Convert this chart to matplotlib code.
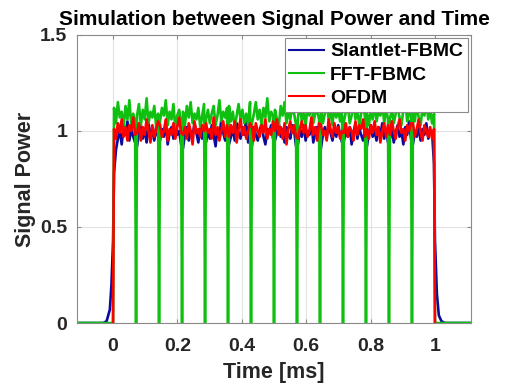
import numpy as np
import matplotlib.pyplot as plt

plt.rcParams['font.family'] = ['Liberation Sans', 'DejaVu Sans']
plt.rcParams['font.weight'] = 'bold'
plt.rcParams['axes.labelweight'] = 'bold'
plt.rcParams['axes.titleweight'] = 'bold'

# signal power per symbol (x100), 14 symbols of 12 samples each
green_sym = [
    [112, 104, 115, 107, 110, 102, 113, 106, 116, 103, 109, 105],
    [108, 114, 103, 111, 106, 117, 104, 110, 107, 113, 102, 109],
    [105, 112, 108, 116, 103, 110, 106, 114, 101, 108, 111, 104],
    [110, 103, 113, 107, 115, 104, 109, 106, 112, 102, 108, 114],
    [106, 111, 104, 109, 113, 103, 108, 116, 105, 110, 107, 112],
    [113, 105, 110, 102, 108, 114, 106, 111, 104, 109, 103, 115],
    [104, 109, 115, 106, 111, 103, 112, 107, 117, 105, 110, 108],
    [111, 106, 103, 113, 108, 115, 104, 110, 106, 112, 109, 103],
    [107, 114, 105, 110, 103, 112, 108, 116, 104, 109, 111, 106],
    [112, 104, 109, 115, 106, 110, 103, 113, 107, 111, 105, 114],
    [105, 110, 113, 104, 108, 116, 106, 111, 103, 109, 114, 107],
    [109, 103, 111, 106, 114, 105, 110, 108, 115, 104, 112, 106],
    [106, 112, 104, 109, 113, 107, 103, 111, 116, 105, 110, 108],
    [110, 105, 114, 107, 103, 112, 108, 115, 106, 111, 104, 109],
]
red_sym = [
    [101, 96, 104, 99, 106, 97, 102, 95, 103, 100, 107, 98],
    [99, 104, 95, 102, 98, 106, 100, 94, 103, 97, 101, 105],
    [103, 97, 100, 106, 95, 101, 98, 104, 96, 102, 107, 99],
    [98, 102, 96, 104, 100, 93, 105, 99, 101, 97, 103, 100],
    [104, 99, 101, 96, 107, 98, 102, 95, 100, 105, 97, 103],
    [97, 103, 99, 105, 94, 101, 106, 98, 102, 96, 100, 104],
    [102, 95, 104, 100, 97, 103, 99, 106, 96, 101, 98, 105],
    [100, 106, 98, 102, 96, 104, 93, 101, 105, 99, 103, 97],
    [96, 101, 105, 99, 103, 97, 100, 107, 98, 102, 95, 104],
    [103, 98, 100, 95, 106, 101, 97, 104, 99, 102, 96, 100],
    [99, 104, 97, 102, 100, 95, 105, 98, 103, 101, 106, 97],
    [101, 96, 103, 99, 105, 98, 102, 94, 100, 104, 97, 103],
    [98, 105, 100, 96, 102, 106, 99, 101, 95, 103, 100, 104],
    [104, 97, 101, 106, 99, 95, 103, 100, 97, 102, 96, 101],
]
blue_sym = [
    [78, 90, 96, 100, 93, 102, 98, 105, 95, 101, 97, 94],
    [92, 99, 103, 96, 101, 94, 104, 98, 100, 95, 102, 97],
    [95, 101, 97, 104, 93, 99, 102, 96, 105, 98, 100, 93],
    [91, 98, 102, 95, 100, 97, 104, 99, 94, 101, 96, 103],
    [94, 100, 96, 103, 98, 92, 101, 97, 106, 99, 95, 102],
    [93, 97, 101, 95, 104, 99, 96, 102, 98, 108, 94, 100],
    [92, 102, 98, 95, 100, 104, 97, 93, 101, 99, 103, 96],
    [95, 99, 104, 97, 101, 94, 102, 98, 96, 103, 100, 92],
    [93, 101, 97, 103, 95, 100, 98, 105, 94, 99, 102, 96],
    [91, 98, 102, 96, 104, 99, 95, 101, 97, 103, 98, 94],
    [95, 100, 97, 102, 93, 99, 104, 96, 101, 98, 95, 100],
    [92, 99, 103, 97, 100, 95, 102, 98, 104, 96, 101, 94],
    [96, 101, 94, 99, 103, 97, 100, 93, 102, 98, 105, 96],
    [93, 100, 97, 102, 95, 101, 98, 104, 96, 100, 99, 83],
]

# filter roll-off of the Slantlet-FBMC burst edges
blue_head_t = [-0.115, -0.03, -0.02, -0.01, -0.005, 0.0]
blue_head = [0, 0, 0.01, 0.07, 0.2, 0.43]
blue_tail_t = [1.0, 1.006, 1.012, 1.02, 1.03, 1.115]
blue_tail = [0.43, 0.15, 0.04, 0.01, 0, 0]

n_sym = len(green_sym)
n_smp = len(green_sym[0])
t_sym = 1.0 / n_sym


def symbol_times(k):
    return [t_sym * (k + (j + 0.5) / n_smp) for j in range(n_smp)]


# Slantlet-FBMC
t_b, p_b = list(blue_head_t), list(blue_head)
for k, s in enumerate(blue_sym):
    t_b += symbol_times(k)
    p_b += [v / 100 for v in s]
t_b += blue_tail_t
p_b += blue_tail

# FFT-FBMC, drops to zero between symbols
t_g, p_g = [-0.115, 0.0], [0, 0]
for k, s in enumerate(green_sym):
    if k > 0:
        t_g.append(k * t_sym)
        p_g.append(0)
    t_g += symbol_times(k)
    p_g += [v / 100 for v in s]
t_g += [1.0, 1.115]
p_g += [0, 0]

# OFDM
t_r, p_r = [0.0], [0]
for k, s in enumerate(red_sym):
    t_r += symbol_times(k)
    p_r += [v / 100 for v in s]
t_r.append(1.0)
p_r.append(0)

txt = '#262626'
edge = '#8a8a8a'

fig = plt.figure(figsize=(5.08, 3.88), dpi=100)
ax = fig.add_axes([0.1516, 0.1675, 0.7756, 0.7425])

ax.plot(t_b, p_b, color='#0a0aa0', lw=1.9, label='Slantlet-FBMC')
ax.plot(t_g, p_g, color='#10c010', lw=1.9, label='FFT-FBMC')
ax.plot(t_r, p_r, color='#ff0000', lw=1.9, label='OFDM')

ax.set_xlim(-0.112, 1.112)
ax.set_ylim(0, 1.5)
ax.set_xticks([0, 0.2, 0.4, 0.6, 0.8, 1])
ax.set_xticklabels(['0', '0.2', '0.4', '0.6', '0.8', '1'])
ax.set_yticks([0, 0.5, 1, 1.5])
ax.set_yticklabels(['0', '0.5', '1', '1.5'])
ax.grid(True, color='#e2e2e2', lw=0.8)
ax.set_axisbelow(True)

for sp in ax.spines.values():
    sp.set_color(edge)
    sp.set_linewidth(0.8)
ax.tick_params(direction='in', top=True, right=True, length=3, width=0.8,
               color=edge, labelcolor=txt, labelsize=14)
ax.tick_params(axis='x', pad=11)
ax.tick_params(axis='y', pad=7)

ax.set_xlabel('Time [ms]', fontsize=15.5, color=txt, labelpad=5)
ax.set_ylabel('Signal Power', fontsize=15.5, color=txt, labelpad=3)
ax.set_title('Simulation between Signal Power and Time', fontsize=15,
             color='black', pad=7)

leg = ax.legend(loc='upper right', fontsize=14, fancybox=False, framealpha=1,
                edgecolor=edge, borderpad=0.25, labelspacing=0.3,
                handlelength=1.8, handletextpad=0.3, borderaxespad=0.15)
leg.get_frame().set_linewidth(0.8)
for text in leg.get_texts():
    text.set_color('black')
for line in leg.get_lines():
    line.set_linewidth(1.5)

fig.savefig('out.png', dpi=100)
